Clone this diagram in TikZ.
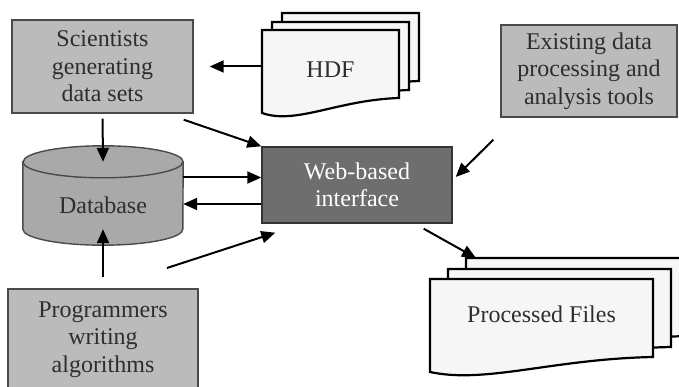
\documentclass[tikz,border=0pt]{standalone}
\usepackage{fontspec}
\setmainfont{Liberation Serif}
\newfontfamily\diagfont{Liberation Serif}
\usetikzlibrary{arrows.meta,positioning,calc}
\definecolor{BoxGray}{HTML}{BBBBBB}
\definecolor{DbGray}{HTML}{A9A9A9}
\definecolor{WebGray}{HTML}{6E6E6E}
\definecolor{PageFill}{HTML}{F6F6F6}
\definecolor{EdgeGray}{HTML}{4A4A4A}
\definecolor{TextGray}{HTML}{2E2E2E}

% one sheet of a stacked document: x1, top, x2, left bottom, right bottom
\newcommand{\docpage}[5]{%
  \filldraw[docpage] (#1,#2) -- (#3,#2) -- (#3,#5)
    .. controls ({#1+0.55*(#3-#1)},{#5+2}) and ({#1+0.25*(#3-#1)},{#4+12}) .. (#1,#4) -- cycle;}

\begin{document}
\begin{tikzpicture}[x=1pt,y=-1pt,font=\diagfont\fontsize{24}{27.5}\selectfont,text=TextGray]
    \tikzset{graybox/.style={draw=EdgeGray,line width=1.4pt,fill=BoxGray,align=center,inner sep=0pt},
      docpage/.style={draw=black,line width=2.2pt,fill=PageFill},
      arr/.style={line width=2pt,-{Triangle[length=14pt,width=12pt]}}}
    \useasboundingbox (0,0) rectangle (679,387);

    % HDF stack
    \docpage{282}{13}{419}{96}{81}
    \docpage{272}{22}{409}{105}{90}
    \docpage{262}{30}{399}{113}{98}
    \node[minimum width=137pt,inner sep=0pt] (hdf) at (330.5,70) {HDF};

    % processed files stack
    \docpage{466}{258}{689}{351}{336}
    \docpage{448}{269}{671}{362}{347}
    \docpage{430}{279}{653}{372}{357}
    \coordinate (procback) at (466,258);
    \node[minimum width=223pt,inner sep=0pt] (proc) at (541.5,314) {Processed Files};

    \node[graybox,minimum width=181pt,minimum height=93pt] (sci) at (102.5,66.5) {Scientists\\generating\\data sets};
    \node[graybox,minimum width=176pt,minimum height=92pt] (exist) at (589,71) {Existing data\\processing and\\analysis tools};
    \node[graybox,fill=WebGray,draw=black!80,text=white,minimum width=190pt,minimum height=76pt] (web) at (357,185) {Web-based\\interface};
    \node[graybox,minimum width=190pt,minimum height=101pt] (prog) at (103,339.5) {Programmers\\writing\\algorithms};

    % database cylinder
    \node[minimum width=160pt,minimum height=67pt,inner sep=0pt] (db) at (103,195.5) {};
    \filldraw[draw=EdgeGray,line width=1.4pt,fill=DbGray] (db.north west) -- (db.south west)
      arc[start angle=180,end angle=360,x radius=80pt,y radius=16pt] -- (db.north east)
      arc[start angle=0,end angle=180,x radius=80pt,y radius=16pt] -- cycle;
    \draw[draw=EdgeGray,line width=1.4pt] (db.north west) arc[start angle=180,end angle=360,x radius=80pt,y radius=16pt];
    \node (dbtext) at ([yshift=-10pt]db.center) {Database};

    % connectors
    \draw[arr,shorten >=16pt] (hdf.west |- sci.east) -- (sci.east);
    \draw[arr,shorten <=5pt] (sci.south) -- (db.north);
    \draw[arr] ($(sci.south east)+(-10,6)$) -- (web.north west);
    \draw[arr] ([yshift=18pt]db.east) -- ([yshift=18pt]db.east -| web.west);
    \draw[arr] ([yshift=-19pt]web.west) -- ([yshift=-19pt]web.west -| db.east);
    \draw[arr,shorten <=11pt] (prog.north) -- (db.south);
    \coordinate (loose) at (167,268);
    \draw[arr] (loose) -- ($(web.south west)+(14,9)$);
    \draw[arr] ($(exist.south west)+(-7,22)$) -- ($(web.east)+(3,-8)$);
    \draw[arr] ($(web.south east)+(-29,5)$) -- ($(procback)+(10,0)$);
  \end{tikzpicture}
\end{document}
